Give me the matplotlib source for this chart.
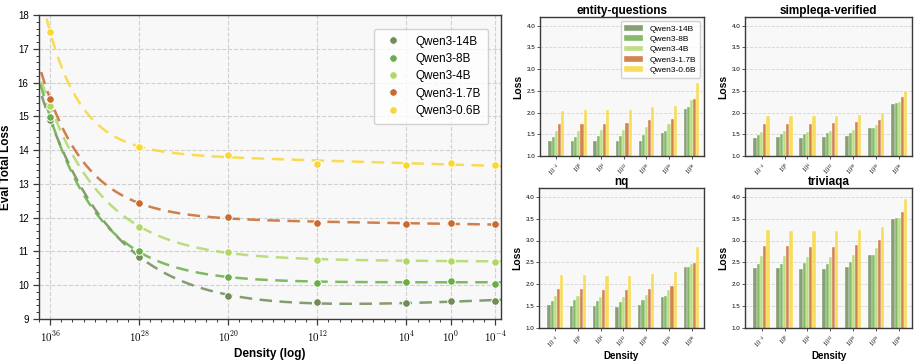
import numpy as np
import matplotlib
matplotlib.use('Agg')
import matplotlib.pyplot as plt
from matplotlib.ticker import FixedLocator, AutoMinorLocator, NullFormatter, FormatStrFormatter

plt.rcParams['font.family'] = ['Liberation Sans', 'DejaVu Sans']
plt.rcParams['mathtext.fontset'] = 'cm'

models = ['Qwen3-14B', 'Qwen3-8B', 'Qwen3-4B', 'Qwen3-1.7B', 'Qwen3-0.6B']
colors = ['#708c57', '#6aae4a', '#b2d767', '#c96a2e', '#f8d737']

# left panel: log10(density) and eval total loss per model
density_exp = [36, 28, 20, 12, 4, 0, -4]
loss_14b = [14.90, 10.85, 9.67, 9.51, 9.48, 9.54, 9.52]
loss_8b = [14.98, 11.00, 10.23, 10.08, 10.11, 10.13, 10.05]
loss_4b = [15.32, 11.73, 10.98, 10.76, 10.72, 10.73, 10.70]
loss_17b = [15.52, 12.42, 12.03, 11.84, 11.80, 11.83, 11.82]
loss_06b = [17.50, 14.10, 13.87, 13.60, 13.56, 13.63, 13.55]
left_ticks = [36, 28, 20, 12, 4, 0, -4]

# right panels: density groups (ascending) and per-model loss
bar_groups = ['$10^{-4}$', '$10^{0}$', '$10^{4}$', '$10^{12}$', '$10^{20}$', '$10^{28}$', '$10^{36}$']
entity_questions = [
    [1.34, 1.35, 1.34, 1.35, 1.34, 1.52, 2.09],
    [1.43, 1.44, 1.45, 1.47, 1.49, 1.57, 2.13],
    [1.57, 1.58, 1.59, 1.60, 1.66, 1.74, 2.29],
    [1.73, 1.74, 1.74, 1.76, 1.82, 1.86, 2.31],
    [2.03, 2.05, 2.05, 2.07, 2.13, 2.16, 2.68],
]
simpleqa_verified = [
    [1.42, 1.44, 1.41, 1.44, 1.45, 1.65, 2.20],
    [1.48, 1.50, 1.51, 1.52, 1.53, 1.65, 2.23],
    [1.55, 1.57, 1.56, 1.58, 1.60, 1.71, 2.24],
    [1.74, 1.74, 1.74, 1.76, 1.79, 1.84, 2.35],
    [1.91, 1.92, 1.92, 1.93, 1.95, 1.99, 2.50],
]
nq = [
    [1.52, 1.51, 1.51, 1.49, 1.53, 1.71, 2.39],
    [1.62, 1.64, 1.62, 1.60, 1.63, 1.73, 2.39],
    [1.73, 1.73, 1.72, 1.72, 1.76, 1.87, 2.47],
    [1.89, 1.89, 1.87, 1.87, 1.90, 1.96, 2.49],
    [2.21, 2.22, 2.20, 2.19, 2.24, 2.27, 2.86],
]
triviaqa = [
    [2.38, 2.37, 2.36, 2.35, 2.39, 2.66, 3.50],
    [2.47, 2.47, 2.48, 2.46, 2.50, 2.67, 3.51],
    [2.65, 2.65, 2.63, 2.63, 2.66, 2.84, 3.51],
    [2.88, 2.88, 2.86, 2.85, 2.90, 3.01, 3.66],
    [3.23, 3.22, 3.22, 3.21, 3.25, 3.32, 3.95],
]


def fit_curve(t, y, tt):
    # least squares fit: c0 + c1*t + c2*exp(k*(t-36)), k chosen by grid search
    t = np.asarray(t, float)
    y = np.asarray(y, float)
    best = None
    for k in np.linspace(0.05, 1.2, 116):
        A = np.column_stack([np.ones_like(t), t, np.exp(k * (t - 36))])
        coef, *_ = np.linalg.lstsq(A, y, rcond=None)
        err = np.sum((A @ coef - y) ** 2)
        if best is None or err < best[0]:
            best = (err, k, coef)
    _, k, coef = best
    return coef[0] + coef[1] * tt + coef[2] * np.exp(k * (tt - 36))


fig = plt.figure(figsize=(9.2, 3.61), dpi=100)
W, H = 920.0, 361.0


def px_axes(x0, y0, x1, y1):
    return fig.add_axes([x0 / W, 1 - y1 / H, (x1 - x0) / W, (y1 - y0) / H])


def style_spines(ax):
    for s in ax.spines.values():
        s.set_color('#3a3a3a')
        s.set_linewidth(1.0)
    ax.set_facecolor('#f8f8f8')


# ---- left panel ----
ax = px_axes(39, 15, 501, 319)
style_spines(ax)
tt = np.linspace(37.3, -4.6, 400)
series = [loss_14b, loss_8b, loss_4b, loss_17b, loss_06b]
dens = 10.0 ** np.array(density_exp, float)
for name, vals, c in zip(models, series, colors):
    curve = fit_curve(density_exp, vals, tt)
    ax.plot(10.0 ** tt, curve, color=c, lw=1.8, ls=(0, (5, 3)), alpha=0.85, zorder=2)
for name, vals, c in zip(models, series, colors):
    ax.plot(dens, vals, 'o', color=c, ms=5.5, mec='white', mew=0.7, label=name, zorder=3)

ax.set_xscale('log')
ax.set_xlim(10.0 ** 37.0, 10.0 ** -4.5)
ax.set_ylim(9, 18)
ax.xaxis.set_major_locator(FixedLocator([10.0 ** e for e in left_ticks]))
ax.set_xticklabels(['$10^{%d}$' % e for e in left_ticks])
ax.xaxis.set_minor_locator(FixedLocator([10.0 ** e for e in range(37, -5, -1)]))
ax.xaxis.set_minor_formatter(NullFormatter())
ax.yaxis.set_minor_locator(AutoMinorLocator(5))
ax.tick_params(which='major', length=4, width=0.9, labelsize=7, color='#3a3a3a')
ax.tick_params(which='minor', length=2, width=0.7, color='#3a3a3a')
ax.tick_params(axis='x', which='major', labelsize=8)
ax.grid(True, which='major', ls='--', color='#d0d0d0', lw=0.8)
ax.set_axisbelow(True)
ax.set_xlabel('Density (log)', fontsize=8.5, fontweight='bold', labelpad=3)
ax.set_ylabel('Eval Total Loss', fontsize=8.5, fontweight='bold', labelpad=4)
leg = ax.legend(loc='upper right', fontsize=8.5, handletextpad=0.9, borderpad=0.6,
                labelspacing=0.45, frameon=True, bbox_to_anchor=(0.985, 0.975))
leg.get_frame().set_edgecolor('#c8c8c8')
leg.get_frame().set_facecolor('white')

# ---- right panels ----
panels = [
    ('entity-questions', entity_questions, (540, 17, 704, 156), True, False),
    ('simpleqa-verified', simpleqa_verified, (745, 17, 912, 156), False, False),
    ('nq', nq, (539, 188, 704, 328), False, True),
    ('triviaqa', triviaqa, (745, 188, 912, 328), False, True),
]
x = np.arange(len(bar_groups))
bw = 0.14
for title, data, box, show_leg, show_xlabel in panels:
    bx = px_axes(*box)
    style_spines(bx)
    for i, (name, c) in enumerate(zip(models, colors)):
        bx.bar(x + (i - 2) * bw, data[i], width=bw, color=c, alpha=0.82,
               edgecolor='white', linewidth=0.3, label=name, zorder=2)
    bx.set_ylim(1.0, 4.2)
    bx.set_xlim(-0.72, 6.55)
    bx.set_yticks([1.0, 1.5, 2.0, 2.5, 3.0, 3.5, 4.0])
    bx.yaxis.set_major_formatter(FormatStrFormatter('%.1f'))
    bx.set_xticks(x)
    bx.set_xticklabels(bar_groups, rotation=45, ha='right', rotation_mode='anchor')
    bx.tick_params(labelsize=4.5, length=2, width=0.6, pad=1.5, color='#3a3a3a')
    bx.grid(True, axis='y', ls='--', color='#d5d5d5', lw=0.6)
    bx.set_axisbelow(True)
    bx.set_title(title, fontsize=8.5, fontweight='bold', pad=2.5)
    bx.set_ylabel('Loss', fontsize=7.5, fontweight='bold', labelpad=2)
    if show_xlabel:
        bx.set_xlabel('Density', fontsize=7, fontweight='bold', labelpad=1)
    if show_leg:
        lg = bx.legend(loc='upper right', fontsize=6, handlelength=2.2,
                       labelspacing=0.3, borderpad=0.45, frameon=True)
        lg.get_frame().set_edgecolor('#c8c8c8')
        lg.get_frame().set_facecolor('white')

fig.savefig('out.png', dpi=100)
